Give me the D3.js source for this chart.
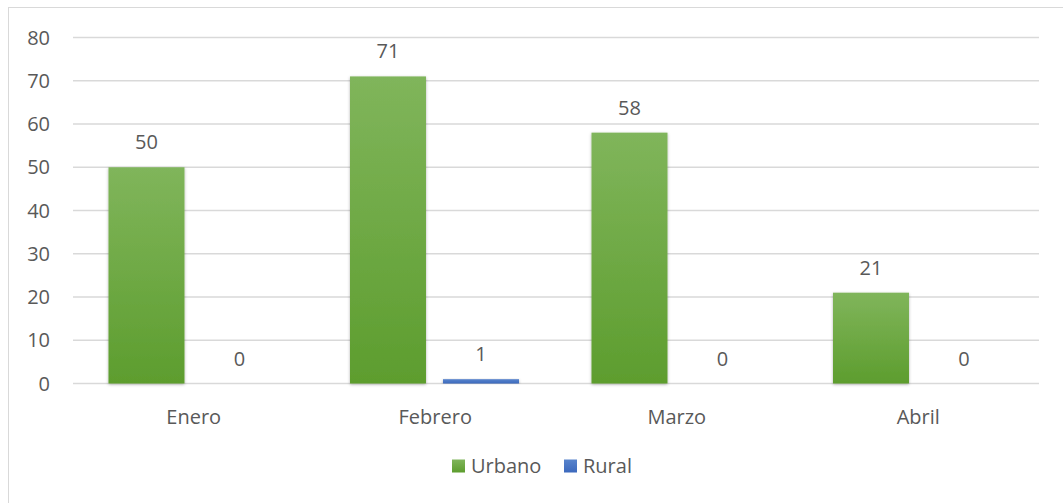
<!DOCTYPE html>
<html>
<head>
<meta charset="utf-8">
<script src="https://cdn.jsdelivr.net/npm/d3@7"></script>
<style>
  body { margin: 0; background: #fff; }
  text { font-family: "Open Sans", "Noto Sans", sans-serif; fill: #595959; }
</style>
</head>
<body>
<div id="chart"></div>
<script>
// data
var months = ["Enero", "Febrero", "Marzo", "Abril"];
var series = ["Urbano", "Rural"];
var urbano = [50, 71, 58, 21];
var rural = [0, 1, 0, 0];
var yTicks = [0, 10, 20, 30, 40, 50, 60, 70, 80];

var w = 1063, h = 503;
var margin = { top: 37.5, left: 73, right: 24, bottom: 119.5 };
var width = w - margin.left - margin.right;
var height = h - margin.top - margin.bottom;
var fs = "20px";

var svg = d3.select("#chart").append("svg")
  .attr("width", w)
  .attr("height", h);

var defs = svg.append("defs");
var gGreen = defs.append("linearGradient").attr("id", "gGreen")
  .attr("x1", 0).attr("y1", 0).attr("x2", 0).attr("y2", 1);
gGreen.append("stop").attr("offset", "0%").attr("stop-color", "#80b55b");
gGreen.append("stop").attr("offset", "100%").attr("stop-color", "#5d9d2e");
var gBlue = defs.append("linearGradient").attr("id", "gBlue")
  .attr("x1", 0).attr("y1", 0).attr("x2", 0).attr("y2", 1);
gBlue.append("stop").attr("offset", "0%").attr("stop-color", "#5884cc");
gBlue.append("stop").attr("offset", "100%").attr("stop-color", "#3c69bd");
var shadow = defs.append("filter").attr("id", "shadow")
  .attr("x", "-10%").attr("y", "-10%").attr("width", "120%").attr("height", "120%");
shadow.append("feDropShadow").attr("dx", 0).attr("dy", 1).attr("stdDeviation", 1.5)
  .attr("flood-color", "#000").attr("flood-opacity", 0.3);

// outer border
svg.append("rect")
  .attr("x", 8.5).attr("y", 7.5)
  .attr("width", 1070).attr("height", 520)
  .attr("fill", "none").attr("stroke", "#d9d9d9").attr("stroke-width", 1);

var g = svg.append("g")
  .attr("transform", "translate(" + margin.left + "," + margin.top + ")");

var x0 = d3.scaleBand().domain(months).range([0, width]).paddingInner(0).paddingOuter(0);
var x1 = d3.scaleBand().domain(series).range([35.5, 204.5]).paddingInner(0.183);
var y = d3.scaleLinear().domain([0, 80]).range([height, 0]);

// gridlines
g.selectAll(".grid").data(yTicks).enter().append("line")
  .attr("x1", 0).attr("x2", width)
  .attr("y1", function(d){ return y(d); })
  .attr("y2", function(d){ return y(d); })
  .attr("stroke", "#d9d9d9").attr("stroke-width", 1.3);

// y labels
g.selectAll(".ylab").data(yTicks).enter().append("text")
  .attr("x", -23)
  .attr("y", function(d){ return y(d); })
  .attr("dy", "0.35em")
  .attr("text-anchor", "end")
  .style("font-size", fs)
  .text(function(d){ return d; });

var rows = months.map(function(m, i){
  return { month: m, values: [{ s: "Urbano", v: urbano[i] }, { s: "Rural", v: rural[i] }] };
});

var groups = g.selectAll(".grp").data(rows).enter().append("g")
  .attr("transform", function(d){ return "translate(" + x0(d.month) + ",0)"; });

groups.selectAll("rect").data(function(d){ return d.values; }).enter().append("rect")
  .attr("x", function(d){ return x1(d.s); })
  .attr("width", x1.bandwidth())
  .attr("y", function(d){ return y(d.v); })
  .attr("height", function(d){ return height - y(d.v); })
  .attr("fill", function(d){ return d.s == "Urbano" ? "url(#gGreen)" : "url(#gBlue)"; })
  .attr("filter", function(d){ return d.v > 0 ? "url(#shadow)" : null; });

groups.selectAll(".val").data(function(d){ return d.values; }).enter().append("text")
  .attr("x", function(d){ return x1(d.s) + x1.bandwidth() / 2; })
  .attr("y", function(d){ return y(d.v) - 25; })
  .attr("dy", "0.35em")
  .attr("text-anchor", "middle")
  .style("font-size", fs)
  .text(function(d){ return d.v; });

// x labels
g.selectAll(".xlab").data(months).enter().append("text")
  .attr("x", function(d){ return x0(d) + x0.bandwidth() / 2; })
  .attr("y", height + 33)
  .attr("dy", "0.35em")
  .attr("text-anchor", "middle")
  .style("font-size", fs)
  .text(function(d){ return d; });

// legend
var legendX = [452, 564];
var legend = svg.selectAll(".leg").data(series).enter().append("g")
  .attr("transform", function(d, i){ return "translate(" + legendX[i] + ",466)"; });
legend.append("rect")
  .attr("x", 0).attr("y", -6.5).attr("width", 13).attr("height", 13)
  .attr("fill", function(d){ return d == "Urbano" ? "url(#gGreen)" : "url(#gBlue)"; });
legend.append("text")
  .attr("x", 19).attr("y", 0).attr("dy", "0.35em")
  .style("font-size", fs)
  .text(function(d){ return d; });
</script>
</body>
</html>
